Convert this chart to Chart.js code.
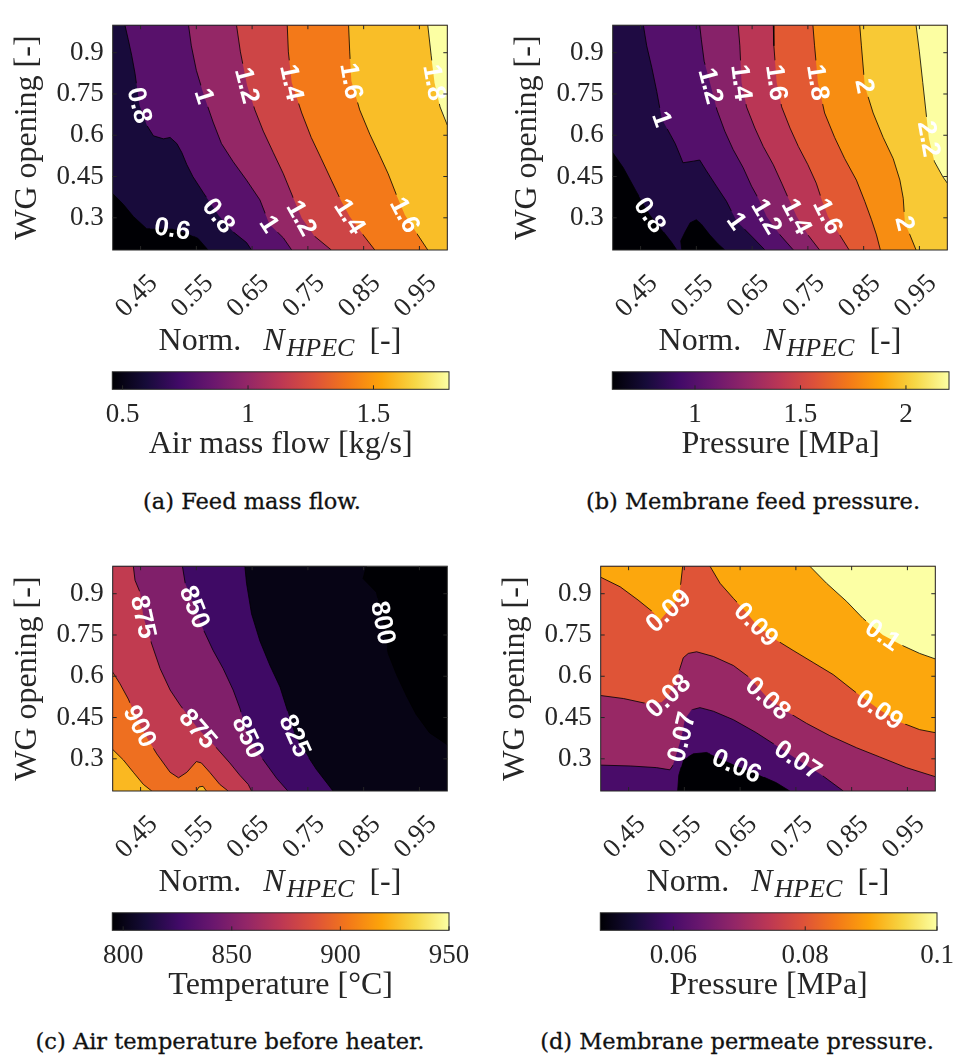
<!DOCTYPE html>
<html>
<head>
<meta charset="utf-8">
<title>HPEC operating maps</title>
<script src="https://cdn.jsdelivr.net/npm/chart.js@4.4.1/dist/chart.umd.min.js"></script>
<style>
  html, body { margin: 0; padding: 0; background: #fff; overflow: hidden; }
  #fig { position: relative; width: 955px; height: 1059px; }
  #fig canvas { position: absolute; }
  .cap { position: absolute; font-family: 'DejaVu Serif', serif; font-size: 22.5px; color: #111;
         white-space: nowrap; transform: translate(-50%, -50%); -webkit-text-stroke: 0.3px #111; }
</style>
</head>
<body>
<div id="fig"></div>
<script>
// shared axes
const xRange = [0.4, 1.0];
const yRange = [0.183, 1.0];
const xTicks = [0.45, 0.55, 0.65, 0.75, 0.85, 0.95];
const yTicks = [0.3, 0.45, 0.6, 0.75, 0.9];

// (a) feed mass flow, kg/s
const massFlowLevels = [0.6, 0.8, 1.0, 1.2, 1.4, 1.6, 1.8];
const massFlowLines = [
  [0.6, [[0.400,0.388],[0.419,0.349],[0.437,0.305],[0.461,0.260],[0.507,0.260],[0.533,0.244],[0.553,0.225],[0.571,0.183]]],
  [0.8, [[0.422,1.000],[0.428,0.947],[0.434,0.891],[0.440,0.825],[0.448,0.709],[0.461,0.637],[0.473,0.598],[0.491,0.587],[0.503,0.592],[0.515,0.570],[0.524,0.537],[0.533,0.493],[0.544,0.449],[0.562,0.393],[0.590,0.308],[0.616,0.249],[0.640,0.210],[0.649,0.183]]],
  [1.0, [[0.536,1.000],[0.541,0.925],[0.550,0.836],[0.564,0.742],[0.580,0.648],[0.595,0.570],[0.616,0.504],[0.640,0.437],[0.664,0.365],[0.681,0.277],[0.706,0.227],[0.721,0.183]]],
  [1.2, [[0.622,1.000],[0.629,0.903],[0.641,0.781],[0.655,0.692],[0.670,0.615],[0.688,0.537],[0.706,0.460],[0.724,0.371],[0.739,0.299],[0.762,0.233],[0.792,0.183]]],
  [1.4, [[0.713,1.000],[0.715,0.903],[0.721,0.792],[0.739,0.681],[0.756,0.592],[0.774,0.515],[0.792,0.437],[0.810,0.360],[0.825,0.305],[0.849,0.238],[0.870,0.183]]],
  [1.6, [[0.823,1.000],[0.825,0.903],[0.828,0.797],[0.843,0.692],[0.861,0.604],[0.879,0.526],[0.894,0.460],[0.909,0.382],[0.924,0.310],[0.947,0.238],[0.965,0.183]]],
  [1.8, [[0.965,1.000],[0.971,0.891],[0.977,0.792],[0.987,0.703],[1.000,0.637]]]
];
const massFlowLabels = [
  [0.8,0.448,0.709],[1.0,0.564,0.742],[1.2,0.641,0.781],[1.4,0.721,0.792],[1.6,0.828,0.797],[1.8,0.977,0.792],
  [0.6,0.507,0.260],[0.8,0.590,0.308],[1.0,0.681,0.277],[1.2,0.739,0.299],[1.4,0.825,0.305],[1.6,0.924,0.310]
];
const massFlowRange = [0.459, 1.801];
const massFlowBarTicks = [0.5, 1, 1.5];

// (b) membrane feed pressure, MPa
const feedPressureLevels = [0.8, 1.0, 1.2, 1.4, 1.6, 1.8, 2.0, 2.2];
const feedPressureLines = [
  [0.8, [[0.400,0.537],[0.419,0.482],[0.443,0.393],[0.467,0.310],[0.491,0.249],[0.506,0.210],[0.515,0.183]]],
  [0.8, [[0.524,0.183],[0.522,0.216],[0.530,0.249],[0.539,0.282],[0.550,0.293],[0.559,0.277],[0.574,0.238],[0.589,0.205],[0.601,0.183]]],
  [1.0, [[0.455,1.000],[0.461,0.925],[0.470,0.847],[0.479,0.759],[0.488,0.659],[0.503,0.604],[0.512,0.570],[0.521,0.526],[0.526,0.500],[0.545,0.506],[0.556,0.510],[0.568,0.471],[0.586,0.415],[0.604,0.360],[0.622,0.288],[0.652,0.227],[0.673,0.183]]],
  [1.2, [[0.556,1.000],[0.559,0.947],[0.564,0.869],[0.576,0.779],[0.587,0.692],[0.601,0.615],[0.616,0.548],[0.634,0.482],[0.649,0.415],[0.661,0.371],[0.676,0.305],[0.700,0.238],[0.724,0.183]]],
  [1.4, [[0.625,1.000],[0.628,0.925],[0.631,0.792],[0.640,0.703],[0.655,0.626],[0.670,0.559],[0.688,0.493],[0.703,0.426],[0.715,0.371],[0.730,0.305],[0.750,0.238],[0.771,0.183]]],
  [1.6, [[0.688,1.000],[0.689,0.925],[0.694,0.792],[0.703,0.703],[0.718,0.626],[0.733,0.559],[0.750,0.493],[0.765,0.426],[0.774,0.371],[0.786,0.305],[0.807,0.238],[0.824,0.183]]],
  [1.8, [[0.759,1.000],[0.762,0.925],[0.768,0.792],[0.780,0.681],[0.798,0.592],[0.816,0.515],[0.837,0.437],[0.852,0.360],[0.864,0.293],[0.873,0.238],[0.880,0.183]]],
  [2.0, [[0.843,1.000],[0.846,0.925],[0.852,0.779],[0.867,0.681],[0.885,0.592],[0.903,0.515],[0.915,0.437],[0.921,0.371],[0.924,0.280],[0.933,0.238],[0.944,0.183]]],
  [2.2, [[0.944,1.000],[0.950,0.903],[0.956,0.792],[0.962,0.681],[0.967,0.587],[0.977,0.504],[0.992,0.449],[1.000,0.426]]]
];
const feedPressureLabels = [
  [0.8,0.467,0.310],[1.0,0.488,0.659],[1.0,0.622,0.288],[1.2,0.576,0.779],[1.2,0.676,0.305],
  [1.4,0.631,0.792],[1.4,0.730,0.305],[1.6,0.694,0.792],[1.6,0.786,0.305],[1.8,0.768,0.792],
  [2.0,0.852,0.779],[2.0,0.924,0.280],[2.2,0.967,0.587]
];
const feedPressureRange = [0.608, 2.204];
const feedPressureBarTicks = [1, 1.5, 2];

// (c) air temperature before heater, degC
const temperatureLevels = [800, 825, 850, 875, 900, 925];
const temperatureLines = [
  [800, [[1.000,0.351],[0.968,0.395],[0.944,0.462],[0.927,0.528],[0.909,0.606],[0.894,0.683],[0.885,0.794],[0.873,0.905],[0.849,0.955],[0.855,1.000]]],
  [825, [[0.795,0.183],[0.786,0.207],[0.765,0.262],[0.747,0.318],[0.727,0.384],[0.712,0.484],[0.700,0.561],[0.682,0.639],[0.664,0.728],[0.649,0.827],[0.640,0.938],[0.637,1.000]]],
  [850, [[0.714,0.183],[0.694,0.229],[0.670,0.296],[0.643,0.379],[0.628,0.484],[0.616,0.550],[0.598,0.628],[0.580,0.694],[0.562,0.772],[0.547,0.852],[0.530,0.938],[0.525,1.000]]],
  [875, [[0.649,0.183],[0.643,0.207],[0.628,0.240],[0.610,0.285],[0.586,0.340],[0.553,0.409],[0.521,0.495],[0.503,0.550],[0.485,0.628],[0.470,0.717],[0.455,0.816],[0.449,0.905],[0.440,0.949],[0.437,1.000]]],
  [900, [[0.607,0.183],[0.592,0.207],[0.574,0.251],[0.559,0.285],[0.550,0.290],[0.533,0.251],[0.518,0.231],[0.503,0.251],[0.479,0.318],[0.449,0.418],[0.428,0.517],[0.413,0.573],[0.400,0.615]]],
  [925, [[0.470,0.183],[0.455,0.207],[0.437,0.251],[0.419,0.296],[0.400,0.334]]],
  [925, [[0.568,0.183],[0.562,0.200],[0.555,0.198],[0.550,0.183]]]
];
const temperatureLabels = [
  [800,0.885,0.794],[825,0.727,0.384],[850,0.547,0.852],[850,0.643,0.379],
  [875,0.455,0.816],[875,0.553,0.409],[900,0.449,0.418]
];
const temperatureRange = [795, 950];
const temperatureBarTicks = [800, 850, 900, 950];

// (d) membrane permeate pressure, MPa
const permeateLevels = [0.06, 0.07, 0.08, 0.09, 0.1];
const permeateLines = [
  [0.06, [[0.538,0.183],[0.540,0.240],[0.548,0.296],[0.566,0.318],[0.590,0.323],[0.614,0.301],[0.644,0.274],[0.685,0.240],[0.715,0.213],[0.739,0.183]]],
  [0.07, [[0.400,0.277],[0.453,0.274],[0.500,0.268],[0.524,0.260],[0.529,0.274],[0.536,0.318],[0.545,0.379],[0.551,0.445],[0.563,0.478],[0.578,0.486],[0.602,0.473],[0.638,0.442],[0.679,0.395],[0.721,0.340],[0.754,0.296],[0.793,0.246],[0.835,0.183]]],
  [0.08, [[0.400,0.530],[0.441,0.519],[0.482,0.501],[0.509,0.506],[0.521,0.528],[0.536,0.584],[0.542,0.628],[0.548,0.667],[0.557,0.683],[0.572,0.689],[0.602,0.672],[0.638,0.639],[0.667,0.595],[0.700,0.519],[0.733,0.473],[0.769,0.429],[0.811,0.384],[0.859,0.340],[0.900,0.307],[0.948,0.268],[1.000,0.235]]],
  [0.09, [[0.400,0.960],[0.435,0.925],[0.467,0.877],[0.494,0.833],[0.506,0.803],[0.521,0.838],[0.539,0.883],[0.543,0.927],[0.547,1.000]]],
  [0.09, [[0.596,1.000],[0.614,0.938],[0.638,0.883],[0.661,0.833],[0.679,0.788],[0.709,0.739],[0.745,0.694],[0.781,0.650],[0.817,0.606],[0.859,0.539],[0.900,0.478],[0.936,0.434],[0.972,0.406],[1.000,0.395]]],
  [0.1, [[0.775,1.000],[0.805,0.938],[0.841,0.872],[0.870,0.811],[0.906,0.750],[0.942,0.711],[0.972,0.683],[1.000,0.663]]]
];
const permeateLabels = [
  [0.09,0.521,0.838],[0.09,0.679,0.788],[0.1,0.906,0.750],[0.08,0.521,0.528],[0.08,0.700,0.519],
  [0.09,0.900,0.478],[0.07,0.545,0.379],[0.07,0.754,0.296],[0.06,0.644,0.274]
];
const permeateRange = [0.0489, 0.1];
const permeateBarTicks = [0.06, 0.08, 0.1];

// inferno colour map, 11 stops
const INFERNO = ['#000004','#160b39','#420a68','#6a176e','#932667','#bc3754',
                 '#dd513a','#f37819','#fca50a','#f6d746','#fcffa4'];

const SERIF = "'Liberation Serif', 'Times New Roman', serif";
Chart.defaults.font.family = SERIF;
Chart.defaults.color = '#262626';
Chart.defaults.animation = false;

const AXIS_COLOR = '#262626';
const LABEL_FONT = "bold 26px 'Liberation Sans', Arial, sans-serif";

function hexRgb(h) { return [1, 3, 5].map(i => parseInt(h.substr(i, 2), 16)); }

function inferno(t) {
  t = Math.min(1, Math.max(0, t));
  const f = t * 10, i = Math.min(9, Math.floor(f)), u = f - i;
  const a = hexRgb(INFERNO[i]), b = hexRgb(INFERNO[i + 1]);
  return 'rgb(' + a.map((v, k) => Math.round(v + (b[k] - v) * u)).join(',') + ')';
}

// position on the frame, counter-clockwise from the bottom-left corner (one unit per side)
function framePos(p, b) {
  const e = 1e-4, [x, y] = p;
  if (Math.abs(y - b.y0) < e) return (x - b.x0) / (b.x1 - b.x0);
  if (Math.abs(x - b.x1) < e) return 1 + (y - b.y0) / (b.y1 - b.y0);
  if (Math.abs(y - b.y1) < e) return 2 + (b.x1 - x) / (b.x1 - b.x0);
  return 3 + (b.y1 - y) / (b.y1 - b.y0);
}

// lines keep the higher values on their left; chain them along the frame
// to get the closed region at or above one level
function closeRegions(pieces, b) {
  const corners = [[1, [b.x1, b.y0]], [2, [b.x1, b.y1]], [3, [b.x0, b.y1]], [4, [b.x0, b.y0]]];
  const info = pieces.map(pts => ({ pts, s: framePos(pts[0], b), e: framePos(pts[pts.length - 1], b) }));
  const used = info.map(() => false);
  const polys = [];
  for (let i = 0; i < info.length; i++) {
    if (used[i]) continue;
    const poly = [];
    let k = i;
    for (let guard = 0; guard < 50; guard++) {
      used[k] = true;
      poly.push(...info[k].pts);
      const from = info[k].e;
      let next = -1, gap = Infinity;
      info.forEach((p, j) => {
        if (used[j] && j !== i) return;
        let d = p.s - from;
        if (d < 0) d += 4;
        if (d < gap) { gap = d; next = j; }
      });
      corners
        .map(([c, pt]) => { let d = c - from; if (d <= 0) d += 4; return [d, pt]; })
        .filter(([d]) => d < gap)
        .sort((u, v) => u[0] - v[0])
        .forEach(([, pt]) => poly.push(pt));
      if (next === i || next < 0) break;
      k = next;
    }
    polys.push(poly);
  }
  return polys;
}

const toXY = p => ({ x: p[0], y: p[1] });

function fillSet(poly, color, order) {
  return {
    data: poly.map(toXY), fill: 'shape', backgroundColor: color,
    borderColor: 'rgba(0,0,0,0)', borderWidth: 0, pointRadius: 0, tension: 0, order
  };
}

// label anchored on its contour, turned along the local direction of the line
function placeLabel(chart, pieces, x, y, text) {
  const xs = chart.scales.x, ys = chart.scales.y;
  const px = xs.getPixelForValue(x), py = ys.getPixelForValue(y);
  let best = { d: Infinity };
  pieces.forEach(pts => {
    const pp = pts.map(q => [xs.getPixelForValue(q[0]), ys.getPixelForValue(q[1])]);
    const cum = [0];
    for (let i = 1; i < pp.length; i++) {
      cum.push(cum[i - 1] + Math.hypot(pp[i][0] - pp[i - 1][0], pp[i][1] - pp[i - 1][1]));
    }
    for (let i = 0; i < pp.length - 1; i++) {
      const [ax, ay] = pp[i], [bx, by] = pp[i + 1];
      const dx = bx - ax, dy = by - ay, l2 = dx * dx + dy * dy;
      let t = l2 ? ((px - ax) * dx + (py - ay) * dy) / l2 : 0;
      t = Math.max(0, Math.min(1, t));
      const qx = ax + t * dx, qy = ay + t * dy, d = Math.hypot(px - qx, py - qy);
      if (d < best.d) best = { d, qx, qy, s: cum[i] + t * Math.sqrt(l2), pp, cum };
    }
  });
  const { pp, cum } = best;
  const at = s => {
    s = Math.max(0, Math.min(cum[cum.length - 1], s));
    let i = 0;
    while (i < cum.length - 2 && cum[i + 1] < s) i++;
    const seg = cum[i + 1] - cum[i] || 1, u = (s - cum[i]) / seg;
    return [pp[i][0] + (pp[i + 1][0] - pp[i][0]) * u, pp[i][1] + (pp[i + 1][1] - pp[i][1]) * u];
  };
  const a = at(best.s - 18), c = at(best.s + 18);
  let ang = Math.atan2(c[1] - a[1], c[0] - a[0]);
  if (ang > Math.PI / 2) ang -= Math.PI;
  else if (ang <= -Math.PI / 2) ang += Math.PI;
  const ctx = chart.ctx;
  ctx.save();
  ctx.font = LABEL_FONT;
  const w = ctx.measureText(text).width;
  ctx.restore();
  return { x: best.qx, y: best.qy, ang, text, hw: w / 2 + 4, hh: 11 };
}

function makeLabelPlugin(p) {
  return {
    id: 'contourLabels',
    beforeDatasetsDraw(chart) {
      chart.$labels = p.labels.map(([lv, x, y]) =>
        placeLabel(chart, p.lines.filter(l => l[0] === lv).map(l => l[1]), x, y, String(lv)));
    },
    // keep contour lines out of the label boxes
    beforeDatasetDraw(chart, args) {
      if (!chart.data.datasets[args.index].contour) return;
      const ctx = chart.ctx;
      ctx.save();
      ctx.beginPath();
      ctx.rect(0, 0, chart.width, chart.height);
      chart.$labels.forEach(lb => {
        const cs = Math.cos(lb.ang), sn = Math.sin(lb.ang);
        [[-1, -1], [1, -1], [1, 1], [-1, 1]].forEach(([u, v], n) => {
          const X = lb.x + u * lb.hw * cs - v * lb.hh * sn;
          const Y = lb.y + u * lb.hw * sn + v * lb.hh * cs;
          if (n === 0) ctx.moveTo(X, Y); else ctx.lineTo(X, Y);
        });
        ctx.closePath();
      });
      ctx.clip('evenodd');
    },
    afterDatasetDraw(chart, args) {
      if (chart.data.datasets[args.index].contour) chart.ctx.restore();
    },
    afterDatasetsDraw(chart) {
      const ctx = chart.ctx;
      chart.$labels.forEach(lb => {
        ctx.save();
        ctx.translate(lb.x, lb.y);
        ctx.rotate(lb.ang);
        ctx.font = LABEL_FONT;
        ctx.fillStyle = '#ffffff';
        ctx.textAlign = 'center';
        ctx.textBaseline = 'middle';
        ctx.fillText(lb.text, 0, 1);
        ctx.restore();
      });
    }
  };
}

// box and inward ticks on all four sides
const axesFramePlugin = {
  id: 'axesFrame',
  afterDatasetsDraw(chart) {
    const { ctx, chartArea: a } = chart;
    const xs = chart.scales.x, ys = chart.scales.y;
    ctx.save();
    ctx.strokeStyle = AXIS_COLOR;
    ctx.lineWidth = 1;
    ctx.beginPath();
    xTicks.forEach(v => {
      const x = xs.getPixelForValue(v);
      ctx.moveTo(x, a.bottom); ctx.lineTo(x, a.bottom - 4);
      ctx.moveTo(x, a.top); ctx.lineTo(x, a.top + 4);
    });
    yTicks.forEach(v => {
      const y = ys.getPixelForValue(v);
      ctx.moveTo(a.left, y); ctx.lineTo(a.left + 4, y);
      ctx.moveTo(a.right, y); ctx.lineTo(a.right - 4, y);
    });
    ctx.stroke();
    ctx.strokeRect(a.left, a.top, a.right - a.left, a.bottom - a.top);
    ctx.restore();
  }
};

// "Norm. N_HPEC [-]" with italic, subscripted symbol
const xTitlePlugin = {
  id: 'xTitle',
  afterDraw(chart) {
    const { ctx, chartArea: a } = chart;
    const parts = [
      { t: 'Norm.', f: '32px ' + SERIF, dy: 0, gap: 22 },
      { t: 'N', f: 'italic 32px ' + SERIF, dy: 0, gap: 2 },
      { t: 'HPEC', f: 'italic 26px ' + SERIF, dy: 6, gap: 15 },
      { t: '[-]', f: '32px ' + SERIF, dy: 0, gap: 0 }
    ];
    ctx.save();
    let total = 0;
    parts.forEach(pt => { ctx.font = pt.f; pt.w = ctx.measureText(pt.t).width; total += pt.w + pt.gap; });
    let x = (a.left + a.right) / 2 - total / 2;
    const base = a.bottom + 100;
    ctx.fillStyle = AXIS_COLOR;
    ctx.textBaseline = 'alphabetic';
    parts.forEach(pt => {
      ctx.font = pt.f;
      ctx.fillText(pt.t, x, base + pt.dy);
      x += pt.w + pt.gap;
    });
    ctx.restore();
  }
};

const colorbarFramePlugin = {
  id: 'colorbarFrame',
  afterDatasetsDraw(chart) {
    const { ctx, chartArea: a } = chart;
    const xs = chart.scales.x;
    ctx.save();
    ctx.strokeStyle = AXIS_COLOR;
    ctx.lineWidth = 1;
    ctx.beginPath();
    xs.ticks.forEach(t => {
      const x = xs.getPixelForValue(t.value);
      ctx.moveTo(x, a.bottom); ctx.lineTo(x, a.bottom - 4);
    });
    ctx.stroke();
    ctx.strokeRect(a.left, a.top, a.right - a.left, a.bottom - a.top);
    ctx.restore();
  }
};

const panels = [
  { left: 0, top: 0, levels: massFlowLevels, lines: massFlowLines, labels: massFlowLabels,
    range: massFlowRange, barTicks: massFlowBarTicks, barTitle: 'Air mass flow [kg/s]',
    caption: '(a) Feed mass flow.', capX: 252, capY: 501 },
  { left: 500, top: 0, levels: feedPressureLevels, lines: feedPressureLines, labels: feedPressureLabels,
    range: feedPressureRange, barTicks: feedPressureBarTicks, barTitle: 'Pressure [MPa]',
    caption: '(b) Membrane feed pressure.', capX: 753, capY: 501 },
  { left: 0, top: 540.7, levels: temperatureLevels, lines: temperatureLines, labels: temperatureLabels,
    range: temperatureRange, barTicks: temperatureBarTicks, barTitle: 'Temperature [\u00B0C]',
    caption: '(c) Air temperature before heater.', capX: 230, capY: 1041 },
  { left: 488, top: 540.7, levels: permeateLevels, lines: permeateLines, labels: permeateLabels,
    range: permeateRange, barTicks: permeateBarTicks, barTitle: 'Pressure [MPa]',
    caption: '(d) Membrane permeate pressure.', capX: 737, capY: 1041 }
];

const fig = document.getElementById('fig');
const charts = [];

function addCanvas(left, top, w, h) {
  const cv = document.createElement('canvas');
  cv.width = w; cv.height = h;
  cv.style.left = left + 'px';
  cv.style.top = top + 'px';
  fig.appendChild(cv);
  return cv;
}

function makeMain(p) {
  const cv = addCanvas(p.left, p.top, 470, 372);
  const b = { x0: xRange[0], x1: xRange[1], y0: yRange[0], y1: yRange[1] };
  const span = p.range[1] - p.range[0];
  const datasets = [];
  // lowest band underneath everything
  datasets.push(fillSet([[b.x0, b.y0], [b.x1, b.y0], [b.x1, b.y1], [b.x0, b.y1]], inferno(0), 1000));
  p.levels.forEach((lv, k) => {
    const pieces = p.lines.filter(l => l[0] === lv).map(l => l[1]);
    closeRegions(pieces, b).forEach(poly =>
      datasets.push(fillSet(poly, inferno((lv - p.range[0]) / span), 900 - k)));
  });
  p.lines.forEach(l => datasets.push({
    data: l[1].map(toXY), contour: true, fill: false, borderColor: '#000000',
    borderWidth: 0.8, pointRadius: 0, tension: 0, order: 0
  }));

  charts.push(new Chart(cv, {
    type: 'line',
    data: { datasets },
    options: {
      responsive: false,
      animation: false,
      events: [],
      layout: { padding: { left: 0, top: 4, right: 470 - 447.3, bottom: 0 } },
      plugins: { legend: { display: false }, tooltip: { enabled: false } },
      scales: {
        x: {
          type: 'linear', min: xRange[0], max: xRange[1],
          grid: { display: false, drawTicks: false }, border: { display: false },
          afterBuildTicks: s => { s.ticks = xTicks.map(v => ({ value: v })); },
          afterFit: s => { s.height = 122; },
          ticks: { autoSkip: false, minRotation: 45, maxRotation: 45, padding: 18, labelOffset: 13,
                   font: { size: 27 }, color: AXIS_COLOR, callback: v => String(v) }
        },
        y: {
          type: 'linear', min: yRange[0], max: yRange[1],
          grid: { display: false, drawTicks: false }, border: { display: false },
          afterBuildTicks: s => { s.ticks = yTicks.map(v => ({ value: v })); },
          afterFit: s => { s.width = 112.7; },
          ticks: { padding: 9, font: { size: 27 }, color: AXIS_COLOR, callback: v => String(v) },
          title: { display: true, text: 'WG opening [-]', font: { size: 32 }, color: AXIS_COLOR,
                   padding: { top: 8, bottom: 0 } }
        }
      }
    },
    plugins: [makeLabelPlugin(p), axesFramePlugin, xTitlePlugin]
  }));
}

function makeColorbar(p) {
  const cv = addCanvas(p.left, p.top + 366, 500, 100);
  charts.push(new Chart(cv, {
    type: 'bar',
    data: {
      labels: [''],
      datasets: [{
        data: [p.range.slice()],
        backgroundColor: c => {
          const a = c.chart.chartArea;
          if (!a) return '#000';
          const g = c.chart.ctx.createLinearGradient(a.left, 0, a.right, 0);
          INFERNO.forEach((h, i) => g.addColorStop(i / 10, h));
          return g;
        },
        borderWidth: 0, barPercentage: 1, categoryPercentage: 1
      }]
    },
    options: {
      indexAxis: 'y',
      responsive: false,
      animation: false,
      events: [],
      layout: { padding: { left: 112.3, right: 51, top: 5.8, bottom: 0 } },
      plugins: { legend: { display: false }, tooltip: { enabled: false } },
      scales: {
        y: { display: false },
        x: {
          type: 'linear', min: p.range[0], max: p.range[1],
          grid: { display: false, drawTicks: false }, border: { display: false },
          afterBuildTicks: s => { s.ticks = p.barTicks.map(v => ({ value: v })); },
          afterFit: s => { s.height = 76.7; },
          ticks: { autoSkip: false, maxRotation: 0, padding: 9, font: { size: 27 }, color: AXIS_COLOR,
                   callback: v => String(v) },
          title: { display: true, text: p.barTitle, font: { size: 32 }, color: AXIS_COLOR,
                   padding: { top: 0, bottom: 2 } }
        }
      }
    },
    plugins: [colorbarFramePlugin]
  }));
}

panels.forEach(p => {
  makeMain(p);
  makeColorbar(p);
  const cap = document.createElement('div');
  cap.className = 'cap';
  cap.textContent = p.caption;
  cap.style.left = p.capX + 'px';
  cap.style.top = p.capY + 'px';
  fig.appendChild(cap);
});

// redraw once the faces are resolved, in case the first pass used a fallback
if (document.fonts && document.fonts.ready) {
  document.fonts.ready.then(() => charts.forEach(c => c.update('none')));
}
</script>
</body>
</html>
